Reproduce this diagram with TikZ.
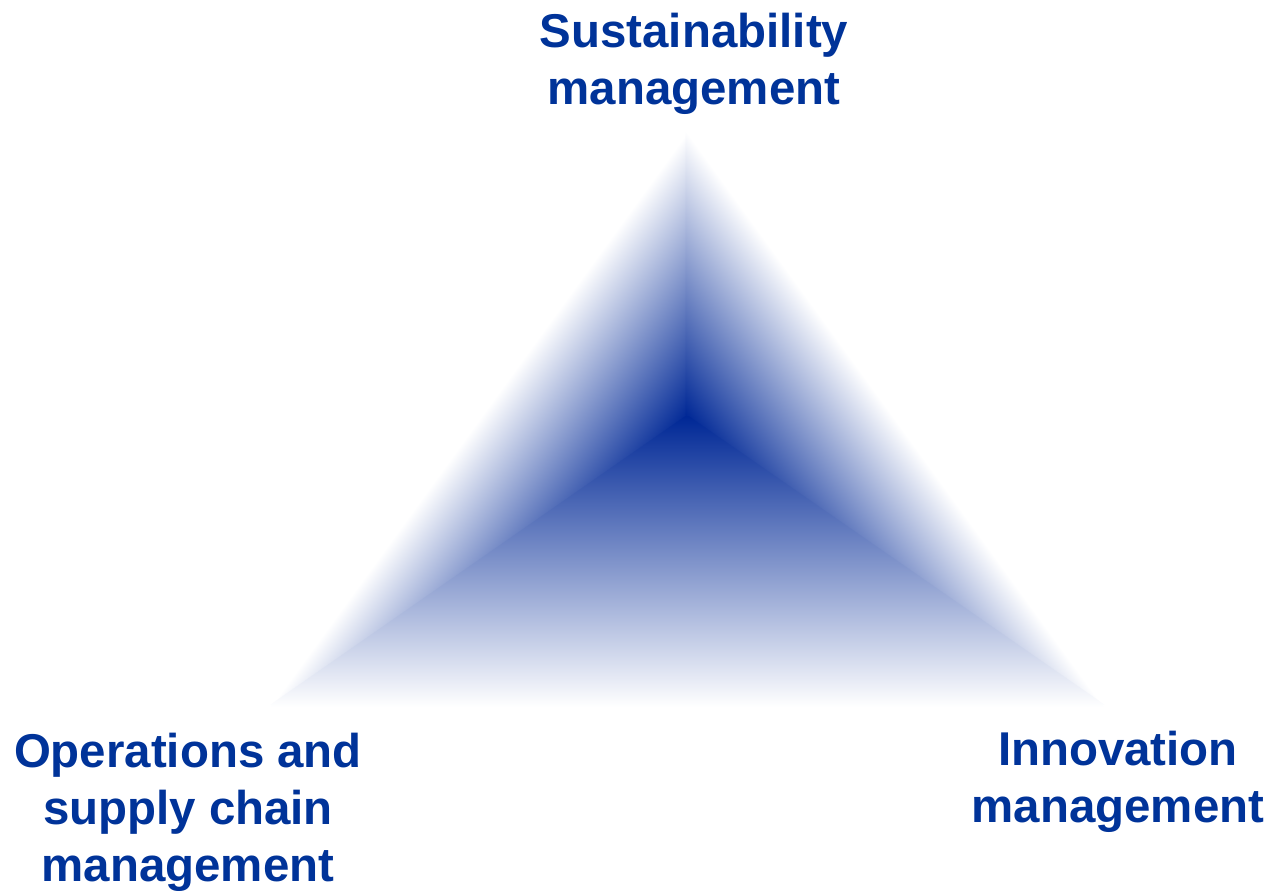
\documentclass[tikz,border=0pt]{standalone}
\usepackage{fontspec}
\setmainfont{Liberation Sans}
\usetikzlibrary{calc}
\definecolor{hubblue}{RGB}{0,40,150}
\definecolor{labelblue}{RGB}{0,51,153}

\begin{document}
\begin{tikzpicture}[x=0.02cm,y=0.02cm,
    label/.style={font=\fontsize{27}{32.5}\selectfont\bfseries,text=labelblue,align=center},
    fade/.style={bottom color=hubblue,middle color=hubblue!52,top color=white}]
    \path[use as bounding box] (0,0) rectangle (1272,891);

    % corners and centre of the triangle
    \coordinate (top) at (687,759);
    \coordinate (left) at (270,184);
    \coordinate (right) at (1105,184);
    \coordinate (hub) at (687,474);

    % each third fades from the centre out to its own edge
    % (later thirds reach a little over the seam)
    \foreach \a/\b/\ang/\dep/\sh in {top/left/54.05/167/{0,0}, right/top/-54.05/167/{-1.5,0}, left/right/180/290/{0,2}} {
        \begin{scope}
            \clip (hub) -- (\a) -- (\b) -- cycle
                  ($(hub)+(\sh)$) -- ($(\a)+(\sh)$) -- ($(\b)+(\sh)$) -- cycle;
            \begin{scope}[transform canvas={shift={(687,474)},rotate=\ang}]
                \shade[fade] (-700,0) rectangle (700,\dep);
            \end{scope}
        \end{scope}
    }

    \node[label] (sustain) at (694,827) {Sustainability\\management};
    \node[label] (ops) at (188,79) {Operations and\\supply chain\\management};
    \node[label] (innov) at (1118,109) {Innovation\\management};
\end{tikzpicture}
\end{document}
